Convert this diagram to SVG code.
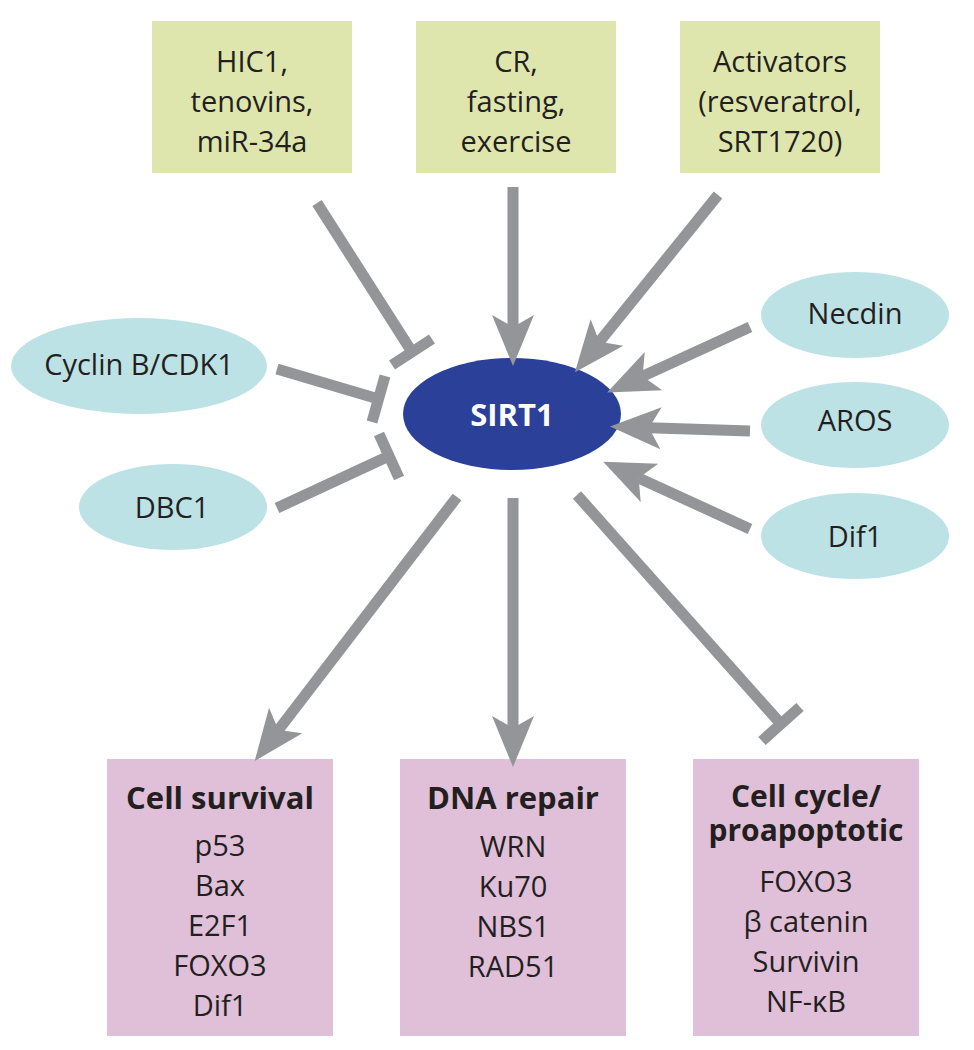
<svg xmlns="http://www.w3.org/2000/svg" width="974" height="1050" viewBox="0 0 974 1050">
<style>
.box-g{fill:#dee6ad}
.box-p{fill:#e0bfd8}
.ell{fill:#bde2e5}
.t{font-family:"Open Sans","Liberation Sans",sans-serif;font-size:29px;fill:#231f20;text-anchor:middle}
.b{font-weight:bold;font-size:31px}
.c{stroke:#939598;stroke-width:11;fill:none;stroke-linecap:butt}
</style>
<defs>
<marker id="arr" markerUnits="userSpaceOnUse" orient="auto" refX="0" refY="0" markerWidth="60" markerHeight="60" viewBox="-10 -16 40 32" overflow="visible">
<path d="M26,0 L-8,-14 L0,0 L-8,14 Z" fill="#939598"/>
</marker>
</defs>
<rect width="974" height="1050" fill="#ffffff"/>

<g id="hic1">
<rect class="box-g" x="152" y="21" width="200" height="152"/>
<text class="t" x="252" y="72">HIC1,</text>
<text class="t" x="252" y="112">tenovins,</text>
<text class="t" x="252" y="152">miR-34a</text>
</g>
<g id="cr">
<rect class="box-g" x="416" y="21" width="200" height="152"/>
<text class="t" x="516" y="72">CR,</text>
<text class="t" x="516" y="112">fasting,</text>
<text class="t" x="516" y="152">exercise</text>
</g>
<g id="activators">
<rect class="box-g" x="680" y="21" width="200" height="152"/>
<text class="t" x="780" y="72">Activators</text>
<text class="t" x="780" y="112">(resveratrol,</text>
<text class="t" x="780" y="152">SRT1720)</text>
</g>

<g id="cyclin">
<ellipse class="ell" cx="139" cy="366" rx="128" ry="48"/>
<text class="t" x="139" y="375">Cyclin B/CDK1</text>
</g>
<g id="dbc1">
<ellipse class="ell" cx="173" cy="507" rx="94" ry="43"/>
<text class="t" x="172" y="518">DBC1</text>
</g>
<g id="necdin">
<ellipse class="ell" cx="855" cy="315" rx="94" ry="43"/>
<text class="t" x="855" y="324">Necdin</text>
</g>
<g id="aros">
<ellipse class="ell" cx="855" cy="425" rx="94" ry="43"/>
<text class="t" x="855" y="431">AROS</text>
</g>
<g id="dif1">
<ellipse class="ell" cx="855" cy="536" rx="94" ry="43"/>
<text class="t" x="855" y="547">Dif1</text>
</g>

<g id="sirt1">
<ellipse cx="512" cy="414" rx="109" ry="56" fill="#2b4199"/>
<text class="t b" x="512" y="426" style="fill:#ffffff">SIRT1</text>
</g>

<g id="survival">
<rect class="box-p" x="107" y="759" width="226" height="277"/>
<text class="t b" x="220" y="809">Cell survival</text>
<text class="t" x="220" y="856">p53</text>
<text class="t" x="220" y="896">Bax</text>
<text class="t" x="220" y="936">E2F1</text>
<text class="t" x="220" y="976">FOXO3</text>
<text class="t" x="220" y="1016">Dif1</text>
</g>
<g id="dnarepair">
<rect class="box-p" x="400" y="759" width="226" height="277"/>
<text class="t b" x="513" y="809">DNA repair</text>
<text class="t" x="513" y="857">WRN</text>
<text class="t" x="513" y="897">Ku70</text>
<text class="t" x="513" y="937">NBS1</text>
<text class="t" x="513" y="977">RAD51</text>
</g>
<g id="cellcycle">
<rect class="box-p" x="693" y="759" width="226" height="277"/>
<text class="t b" x="806" y="807" style="font-size:30px">Cell cycle/</text>
<text class="t b" x="806" y="841" style="font-size:30px">proapoptotic</text>
<text class="t" x="806" y="892">FOXO3</text>
<text class="t" x="806" y="932">β catenin</text>
<text class="t" x="806" y="972">Survivin</text>
<text class="t" x="806" y="1012">NF-κB</text>
</g>

<g id="connectors">
<line class="c" x1="317" y1="203" x2="412" y2="352"/>
<line class="c" x1="432" y1="339" x2="392" y2="365"/>
<line class="c" x1="277" y1="369" x2="378.5" y2="399"/>
<line class="c" x1="385" y1="376" x2="372" y2="422"/>
<line class="c" x1="277" y1="508" x2="389" y2="456"/>
<line class="c" x1="379" y1="434" x2="399" y2="478"/>
<line class="c" x1="577" y1="495" x2="781" y2="724"/>
<line class="c" x1="800" y1="707" x2="762" y2="741"/>
<line class="c" marker-end="url(#arr)" x1="513" y1="187" x2="513" y2="327"/>
<line class="c" marker-end="url(#arr)" x1="718" y1="195" x2="599.4" y2="341.8"/>
<line class="c" marker-end="url(#arr)" x1="750" y1="327" x2="642.6" y2="376.2"/>
<line class="c" marker-end="url(#arr)" x1="750" y1="431" x2="649" y2="427.8"/>
<line class="c" marker-end="url(#arr)" x1="750" y1="529" x2="638.6" y2="477.9"/>
<line class="c" marker-end="url(#arr)" x1="457" y1="497" x2="278.4" y2="730"/>
<line class="c" marker-end="url(#arr)" x1="513" y1="498" x2="513" y2="728"/>
</g>
</svg>
